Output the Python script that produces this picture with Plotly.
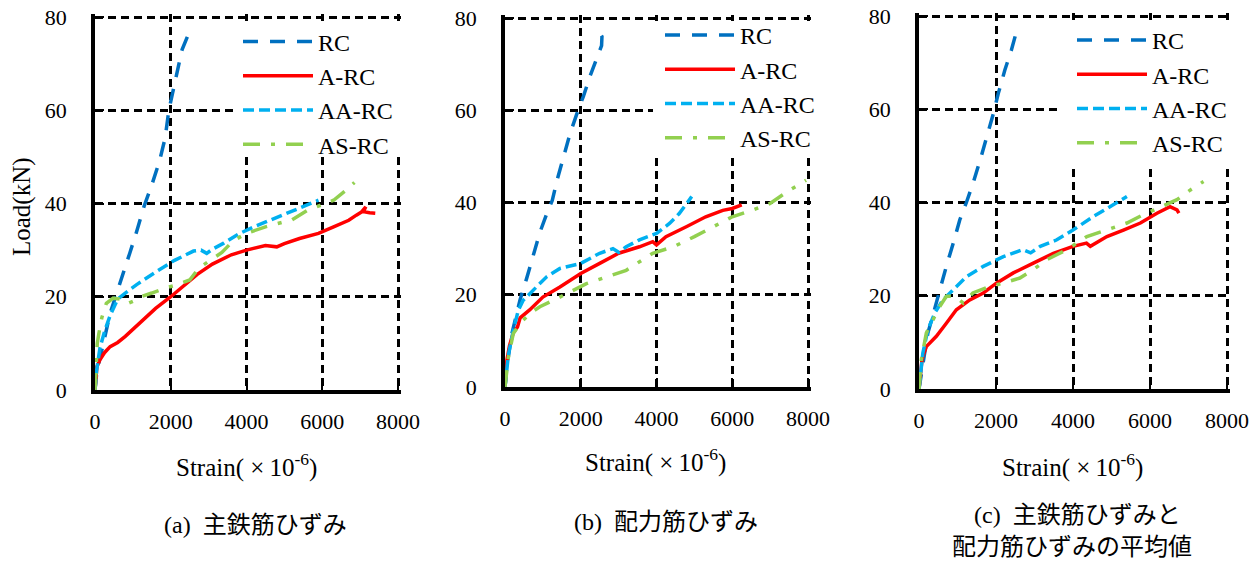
import plotly.graph_objects as go

# ---------------- data (strain ×10^-6, load kN) ----------------
series_names = ["RC", "A-RC", "AA-RC", "AS-RC"]

# (a) main rebar strain
a_rc_x = [0, 50, 180, 300, 400, 570, 750, 920, 1100, 1300, 1500, 1700, 1850, 1950, 2150, 2300, 2450, 2600]
a_rc_y = [0, 4, 8.5, 13, 16.5, 20.7, 25, 29.4, 34, 39.5, 44, 49, 54, 60, 67.5, 73, 76, 77]
a_arc_x = [0, 20, 50, 130, 250, 400, 600, 800, 1000, 1300, 1600, 2000, 2300, 2700, 3100, 3600, 4000, 4500, 4800,
           5000, 5400, 5900, 6300, 6700, 6900, 7100, 7150, 7050, 7250, 7400]
a_arc_y = [0, 3, 5, 6.5, 8, 9.3, 10.2, 11.5, 13, 15.5, 17.5, 20, 22, 24.8, 27, 29, 30, 31, 30.7,
           31.4, 32.5, 33.6, 35, 36.4, 37.5, 38.5, 39.3, 38.3, 38, 37.9]
a_aarc_x = [0, 40, 130, 250, 400, 600, 800, 1100, 1600, 2100, 2600, 2800, 2950, 3100, 3400, 3800, 4200, 4600, 5000, 5400, 5900]
a_aarc_y = [0, 4, 9, 12.5, 16, 19.5, 20.8, 22.6, 25.3, 27.8, 29.8, 30, 29.3, 30.2, 31.5, 33.5, 35, 36.3, 37.6, 39, 40.7]
a_asrc_x = [0, 30, 60, 100, 180, 300, 480, 650, 850, 1050, 1200, 1500, 1900, 2150, 2500, 2750, 3000, 3350, 3650, 4000,
            4500, 5000, 5200, 5600, 5950, 6300, 6650, 6850]
a_asrc_y = [0, 6, 10, 12, 15.5, 18.6, 19.7, 19.5, 18.5, 19.2, 20, 20.8, 22, 22.5, 23.6, 26.2, 27.5, 29.5, 32, 33.6,
            35, 36, 36.5, 38.5, 39.6, 40.7, 43, 44.5]

# (b) distribution rebar strain
b_rc_x = [0, 50, 180, 300, 400, 570, 750, 920, 1100, 1250, 1380, 1550, 1720, 1930, 2070, 2250, 2420, 2550, 2560, 2480]
b_rc_y = [0, 4.5, 11.5, 16, 19, 23.5, 29, 33.5, 37.5, 40.5, 45, 50, 55, 60, 63, 67.5, 71, 74, 76, 77]
b_arc_x = [0, 50, 120, 220, 330, 400, 650, 1000, 1450, 2000, 2500, 3000, 3550, 3900, 4000, 4250, 4800, 5300, 5750, 6000, 6250]
b_arc_y = [0, 5.8, 9, 11.8, 13, 15, 16.7, 19.5, 21.7, 24.6, 26.8, 29, 30.4, 31.5, 30.8, 32.6, 34.8, 36.9, 38.3, 38.7, 39.5]
b_aarc_x = [0, 90, 220, 350, 480, 750, 1100, 1450, 2000, 2500, 2850, 3000, 3200, 3550, 4000, 4350, 4600, 4800, 4930]
b_aarc_y = [0, 7, 12.3, 16.6, 18.8, 21, 23.9, 25.7, 26.8, 29, 30, 29.2, 30.4, 31.9, 33.3, 35.5, 37.6, 39.8, 41.3]
b_asrc_x = [0, 90, 220, 400, 650, 920, 1280, 1700, 2150, 2700, 3200, 3900, 4450, 5000, 5500, 6000, 6550, 7000, 7500, 7950]
b_asrc_y = [0, 6.5, 11.6, 13.8, 15.9, 17.4, 18.8, 20.6, 22.4, 23.9, 25.3, 29, 30.4, 32.6, 34.8, 36.9, 38.4, 39.8, 42.6, 44.8]

# (c) average of main and distribution rebar strain
c_rc_x = [0, 100, 230, 400, 540, 710, 890, 1060, 1230, 1400, 1620, 1800, 1930, 2060, 2230, 2400, 2530]
c_rc_y = [0, 5, 12, 17, 21.3, 26.3, 31.3, 36.3, 40, 44, 50, 55, 59, 63.4, 68.4, 72.7, 76.6]
c_arc_x = [0, 30, 80, 190, 450, 710, 970, 1320, 1670, 2010, 2450, 2970, 3490, 4000, 4350, 4450, 4880, 5310, 5750,
           6180, 6520, 6700, 6750]
c_arc_y = [0, 3, 6.5, 9.1, 11.3, 14.1, 17, 19.1, 20.6, 22.7, 24.9, 27, 29.1, 30.6, 31.3, 30.6, 32.7, 34.1, 35.6,
           37.7, 39.1, 38.4, 37.7]
c_aarc_x = [0, 100, 230, 410, 620, 890, 1230, 1670, 2190, 2700, 2900, 3150, 3580, 4000, 4530, 4960, 5400]
c_aarc_y = [0, 7.7, 12.7, 16.3, 19.1, 21.3, 24.1, 26.3, 28.4, 29.9, 29.2, 30.6, 32, 34.1, 37, 39.1, 41.3]
c_asrc_x = [0, 60, 190, 365, 540, 710, 930, 1150, 1400, 1840, 2190, 2620, 2970, 3310, 3840, 4360, 4880, 5400,
            5830, 6270, 6700, 7050, 7390]
c_asrc_y = [0, 6.3, 12, 14.9, 17.7, 19.9, 19.9, 18.4, 20.6, 22, 22.7, 23.8, 25.6, 27.7, 29.9, 32.7, 34.1, 35.6,
            37.4, 39.1, 40.6, 42.7, 44.5]

x_ticks = [0, 2000, 4000, 6000, 8000]
y_ticks = [0, 20, 40, 60, 80]
x_max, y_max = 8000, 80
y_title = "Load(kN)"
x_title = "Strain(\u2005×\u200910<sup>-6</sup>)"
captions = ["(a)\u00a0\u00a0主鉄筋ひずみ", "(b)\u00a0\u00a0配力筋ひずみ",
            "(c)\u00a0\u00a0主鉄筋ひずみと", "配力筋ひずみの平均値"]

panels = [
    [(a_rc_x, a_rc_y), (a_arc_x, a_arc_y), (a_aarc_x, a_aarc_y), (a_asrc_x, a_asrc_y)],
    [(b_rc_x, b_rc_y), (b_arc_x, b_arc_y), (b_aarc_x, b_aarc_y), (b_asrc_x, b_asrc_y)],
    [(c_rc_x, c_rc_y), (c_arc_x, c_arc_y), (c_aarc_x, c_aarc_y), (c_asrc_x, c_asrc_y)],
]

# ---------------- styles ----------------
W, H = 1260, 562
colors = ["#0070C0", "#FF0000", "#00B0F0", "#92D050"]
dashes = ["15px,12px", "solid", "11px,5px", "17px,11px,4px,11px"]
widths = [3.5, 3.5, 3.5, 3.5]
SERIF = "'Liberation Serif', 'Times New Roman', serif"
JP = "'Liberation Serif', 'Times New Roman', 'Noto Sans CJK JP', serif"

# plot areas in pixels: (left, right(8000), top(80), bottom)
boxes = [(95, 398, 17, 390), (505, 808, 18, 387), (919, 1227, 16, 389)]
EXT = 3  # extra px so that the 8000 / 80 gridlines are drawn as the dashed frame
legend_left = [238, 660, 1072]
legend_top = [19.5, 13, 18]
# white areas behind the legends (hide grid lines there), px: (x0, x1, y0, y1)
legend_boxes = [(233, 402, 21, 157), (653, 812, 21, 155), (1058, 1231, 20, 165)]


def px_x(p):
    return p / W


def px_y(p):
    return (H - p) / H


fig = go.Figure()
for i, panel in enumerate(panels):
    sfx = "" if i == 0 else str(i + 1)
    for j, (xs, ys) in enumerate(panel):
        fig.add_trace(go.Scatter(
            x=xs, y=ys, mode="lines", name=series_names[j],
            line=dict(color=colors[j], width=widths[j], dash=dashes[j]),
            xaxis="x" + sfx, yaxis="y" + sfx,
            legend="legend" + sfx,
            showlegend=True,
        ))

layout = dict(
    width=W, height=H,
    margin=dict(l=0, r=0, t=0, b=0, pad=0, autoexpand=False),
    paper_bgcolor="white", plot_bgcolor="white",
    font=dict(family=SERIF, size=22, color="black"),
    annotations=[], shapes=[],
)

for i, (l, r, t, b) in enumerate(boxes):
    sfx = "" if i == 0 else str(i + 1)
    common = dict(
        showgrid=True, gridcolor="black", gridwidth=2.5, griddash="8px,5px",
        zeroline=False, showline=True, linecolor="black", linewidth=3.5,
        ticks="inside", ticklen=9, tickwidth=2, tickcolor="black",
        tickfont=dict(family=SERIF, size=22, color="black"),
        fixedrange=True, automargin=False,
    )
    rr, tt = r + EXT, t - EXT
    xr = x_max * (rr - l) / (r - l)
    yr = y_max * (b - tt) / (b - t)
    layout["xaxis" + sfx] = dict(
        common, domain=[px_x(l), px_x(rr)], range=[0, xr],
        tickvals=x_ticks, ticktext=[str(v) for v in x_ticks],
        anchor="y" + sfx, ticklabelstandoff=9,
    )
    layout["yaxis" + sfx] = dict(
        common, domain=[px_y(b), px_y(tt)], range=[0, yr],
        tickvals=y_ticks, ticktext=[str(v) for v in y_ticks],
        anchor="x" + sfx, ticklabelstandoff=20,
    )
    layout["legend" + sfx] = dict(
        x=px_x(legend_left[i]), y=px_y(legend_top[i]),
        xref="paper", yref="paper", xanchor="left", yanchor="top",
        bgcolor="rgba(0,0,0,0)", borderwidth=0, itemwidth=70,
        font=dict(family=SERIF, size=24, color="black"),
        itemclick=False, itemdoubleclick=False,
    )
    # white mask behind the legend (between grid and traces), placed via the axis pixel scale
    bx0, bx1, by0, by1 = legend_boxes[i]
    layout["shapes"].append(dict(
        type="rect", layer="between", xref="x" + sfx, yref="y" + sfx,
        x0=x_max * (bx0 - l) / (r - l), x1=x_max * (bx1 - l) / (r - l),
        y0=y_max * (b - by1) / (b - t), y1=y_max * (b - by0) / (b - t),
        fillcolor="white", line=dict(width=0),
    ))

ann = layout["annotations"]
ann.append(dict(text=y_title, x=px_x(22), y=px_y(207), xref="paper", yref="paper",
                textangle=-90, showarrow=False, xanchor="center", yanchor="middle",
                font=dict(family=SERIF, size=25)))
for (cx, cy) in [(246, 465), (655, 460), (1072, 465)]:
    ann.append(dict(text=x_title, x=px_x(cx), y=px_y(cy), xref="paper", yref="paper",
                    showarrow=False, xanchor="center", yanchor="middle",
                    font=dict(family=SERIF, size=25)))
for txt, (cx, cy) in zip(captions, [(255, 525), (666, 522), (1077, 515), (1072, 547)]):
    ann.append(dict(text=txt, x=px_x(cx), y=px_y(cy), xref="paper", yref="paper",
                    showarrow=False, xanchor="center", yanchor="middle",
                    font=dict(family=JP, size=24)))

fig.update_layout(**layout)
fig.write_html("out.html")
